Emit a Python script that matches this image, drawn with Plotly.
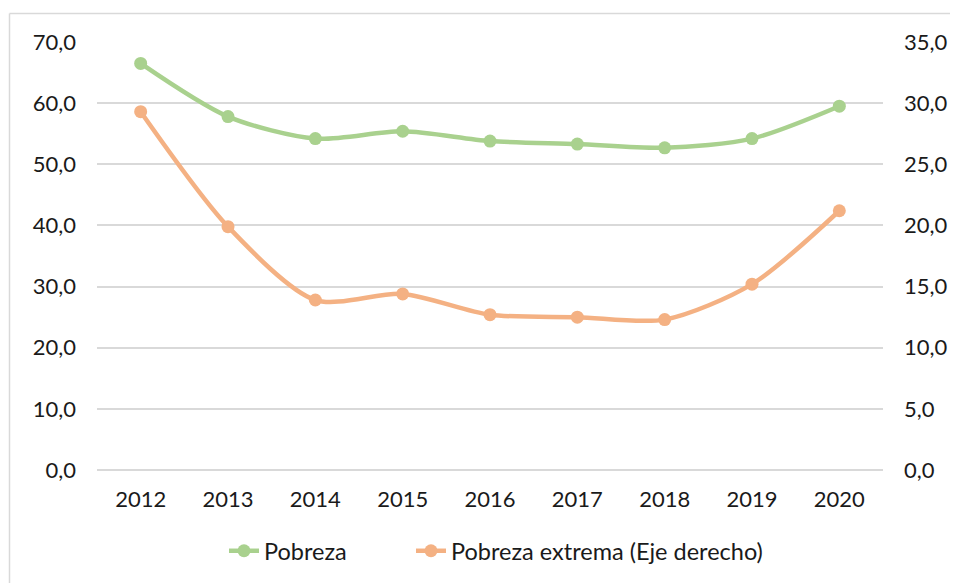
import plotly.graph_objects as go

years = ["2012", "2013", "2014", "2015", "2016", "2017", "2018", "2019", "2020"]
pobreza = [66.5, 57.8, 54.2, 55.4, 53.8, 53.3, 52.7, 54.2, 59.5]
pobreza_extrema = [29.3, 19.9, 13.9, 14.4, 12.7, 12.5, 12.3, 15.2, 21.2]
left_ticks = [0, 10, 20, 30, 40, 50, 60, 70]
right_ticks = [0, 5, 10, 15, 20, 25, 30, 35]

GREEN = "#A9D18E"
ORANGE = "#F4B183"
FONT = "Lato"

# page has an 8px body offset
OFF = 8
W, H = 958 - OFF, 583 - OFF
ml, mt = 97 - OFF, 42 - OFF
mr = W - (883 - OFF)
mb = H - (470 - OFF)
pw, ph = W - ml - mr, H - mt - mb

def px_to_paper_x(px):
    return (px - OFF - ml) / pw

def px_to_paper_y(py):
    return (H - mb - (py - OFF)) / ph

fig = go.Figure()
fig.add_trace(go.Scatter(
    x=years, y=pobreza, name="Pobreza", mode="lines+markers",
    line=dict(color=GREEN, width=4.5, shape="spline", smoothing=0.8),
    marker=dict(color=GREEN, size=13), yaxis="y", legend="legend"))
fig.add_trace(go.Scatter(
    x=years, y=pobreza_extrema, name="Pobreza extrema (Eje derecho)", mode="lines+markers",
    line=dict(color=ORANGE, width=4.5, shape="spline", smoothing=0.8),
    marker=dict(color=ORANGE, size=13), yaxis="y2", legend="legend2"))

leg_common = dict(orientation="h", xanchor="left", yanchor="middle",
                  y=px_to_paper_y(551), font=dict(family=FONT, size=23.5),
                  bgcolor="rgba(0,0,0,0)")

fig.update_layout(
    width=W, height=H,
    margin=dict(l=ml, r=mr, t=mt, b=mb, pad=0, autoexpand=False),
    paper_bgcolor="white", plot_bgcolor="white",
    separators=", ",
    font=dict(family=FONT, size=22, color="#1a1a1a"),
    xaxis=dict(type="category", range=[-0.5, 8.5], showgrid=False, showline=False,
               zeroline=False, ticks="", ticklabelstandoff=14),
    yaxis=dict(range=[0, 70], tickvals=left_ticks, tickformat=".1f",
               showgrid=True, gridcolor="#D9D9D9", gridwidth=1.5,
               zeroline=True, zerolinecolor="#D9D9D9", zerolinewidth=1.5,
               showline=False, ticks="", ticklabelstandoff=20),
    yaxis2=dict(range=[0, 35], tickvals=right_ticks, tickformat=".1f",
                overlaying="y", side="right", showgrid=False, zeroline=False,
                showline=False, ticks="", ticklabelstandoff=20),
    legend=dict(x=px_to_paper_x(224), **leg_common),
    legend2=dict(x=px_to_paper_x(411), **leg_common),
    showlegend=True,
)

# outer light border (left and top edges visible)
x0 = px_to_paper_x(9.5)
y0 = px_to_paper_y(13.5)
fig.add_shape(type="line", xref="paper", yref="paper",
              x0=x0, x1=px_to_paper_x(W + 20), y0=y0, y1=y0,
              line=dict(color="#D9D9D9", width=1.5))
fig.add_shape(type="line", xref="paper", yref="paper",
              x0=x0, x1=x0, y0=y0, y1=px_to_paper_y(H + 20),
              line=dict(color="#D9D9D9", width=1.5))

fig.write_html("out.html")
